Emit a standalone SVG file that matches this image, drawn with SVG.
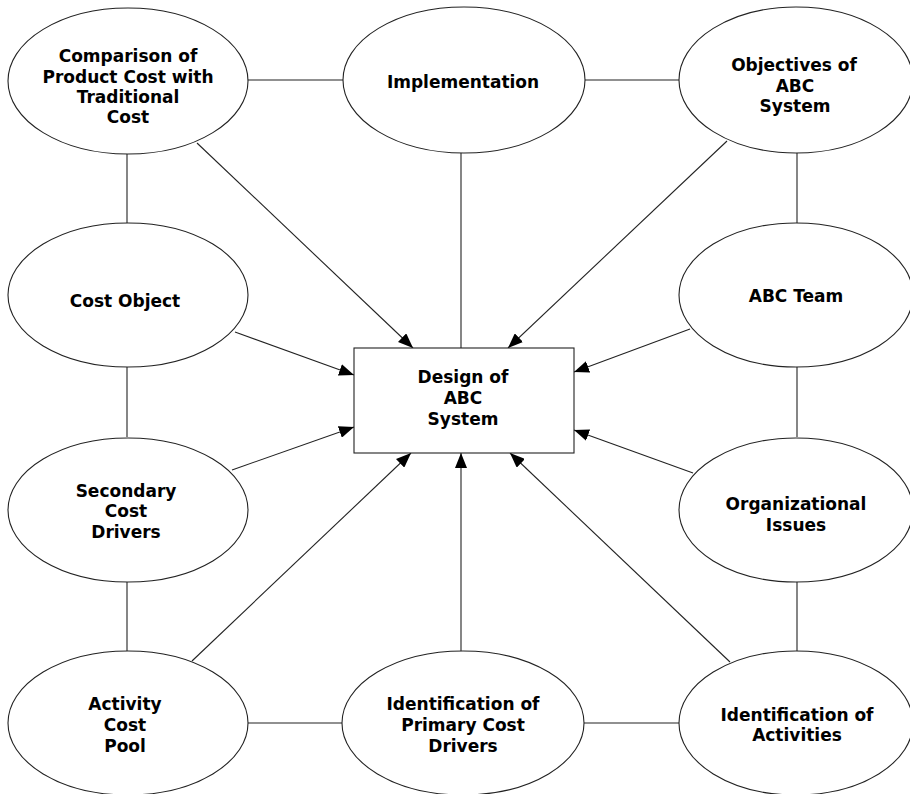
<svg xmlns="http://www.w3.org/2000/svg" width="910" height="794" viewBox="0 0 910 794">
<style>
.n{fill:#fff;stroke:#222;stroke-width:1.1}
.t{font-family:"DejaVu Sans","Liberation Sans",sans-serif;font-weight:bold;font-size:17px;fill:#000;text-anchor:middle}
.c line{stroke:#222;stroke-width:1.1}
</style>
<defs>
<marker id="ah" markerUnits="userSpaceOnUse" markerWidth="16" markerHeight="12" refX="15" refY="6" orient="auto">
<path d="M0,0 L15,6 L0,12 z" fill="#000"/>
</marker>
</defs>
<rect width="910" height="794" fill="#fff"/>
<g class="c">
<line x1="248" y1="80" x2="343" y2="80"/>
<line x1="585" y1="80" x2="679" y2="80"/>
<line x1="127" y1="153" x2="127" y2="223"/>
<line x1="127" y1="367" x2="127" y2="437"/>
<line x1="127" y1="582" x2="127" y2="651"/>
<line x1="248" y1="723" x2="343" y2="723"/>
<line x1="584" y1="723" x2="679" y2="723"/>
<line x1="797" y1="153" x2="797" y2="223"/>
<line x1="797" y1="367" x2="797" y2="437"/>
<line x1="797" y1="582" x2="797" y2="651"/>
<line x1="461" y1="153" x2="461" y2="348"/>
<line x1="197" y1="143" x2="413" y2="348" marker-end="url(#ah)"/>
<line x1="727" y1="141" x2="508" y2="348" marker-end="url(#ah)"/>
<line x1="235" y1="332" x2="354" y2="375" marker-end="url(#ah)"/>
<line x1="232" y1="470" x2="354" y2="427" marker-end="url(#ah)"/>
<line x1="690" y1="329" x2="574" y2="372" marker-end="url(#ah)"/>
<line x1="693" y1="473" x2="574" y2="430" marker-end="url(#ah)"/>
<line x1="192" y1="661" x2="411" y2="453" marker-end="url(#ah)"/>
<line x1="461" y1="651" x2="461" y2="453" marker-end="url(#ah)"/>
<line x1="730" y1="662" x2="510" y2="453" marker-end="url(#ah)"/>
</g>
<g id="design">
<rect class="n" x="354" y="348" width="220" height="105"/>
<text class="t" x="463" y="383">Design of</text>
<text class="t" x="463" y="404">ABC</text>
<text class="t" x="463" y="425">System</text>
</g>
<g id="comparison">
<ellipse class="n" cx="128" cy="81" rx="120" ry="73"/>
<text class="t" x="128" y="62">Comparison of</text>
<text class="t" x="128" y="83">Product Cost with</text>
<text class="t" x="128" y="103">Traditional</text>
<text class="t" x="128" y="123">Cost</text>
</g>
<g id="implementation">
<ellipse class="n" cx="464" cy="80" rx="121" ry="73"/>
<text class="t" x="463" y="88">Implementation</text>
</g>
<g id="objectives">
<ellipse class="n" cx="796" cy="80" rx="117" ry="73"/>
<text class="t" x="794" y="71">Objectives of</text>
<text class="t" x="795" y="92">ABC</text>
<text class="t" x="795" y="112">System</text>
</g>
<g id="costobject">
<ellipse class="n" cx="128" cy="295" rx="120" ry="72"/>
<text class="t" x="125" y="307">Cost Object</text>
</g>
<g id="abcteam">
<ellipse class="n" cx="796" cy="295" rx="117" ry="72"/>
<text class="t" x="796" y="302">ABC Team</text>
</g>
<g id="secondary">
<ellipse class="n" cx="128" cy="510" rx="120" ry="72"/>
<text class="t" x="126" y="497">Secondary</text>
<text class="t" x="126" y="517">Cost</text>
<text class="t" x="126" y="538">Drivers</text>
</g>
<g id="organizational">
<ellipse class="n" cx="796" cy="510" rx="117" ry="72"/>
<text class="t" x="796" y="510">Organizational</text>
<text class="t" x="796" y="531">Issues</text>
</g>
<g id="activitypool">
<ellipse class="n" cx="128" cy="723" rx="120" ry="72"/>
<text class="t" x="125" y="710">Activity</text>
<text class="t" x="125" y="731">Cost</text>
<text class="t" x="125" y="752">Pool</text>
</g>
<g id="primary">
<ellipse class="n" cx="463" cy="723" rx="121" ry="72"/>
<text class="t" x="463" y="710">Identification of</text>
<text class="t" x="463" y="731">Primary Cost</text>
<text class="t" x="463" y="752">Drivers</text>
</g>
<g id="activities">
<ellipse class="n" cx="796" cy="723" rx="117" ry="72"/>
<text class="t" x="797" y="721">Identification of</text>
<text class="t" x="797" y="741">Activities</text>
</g>
</svg>
